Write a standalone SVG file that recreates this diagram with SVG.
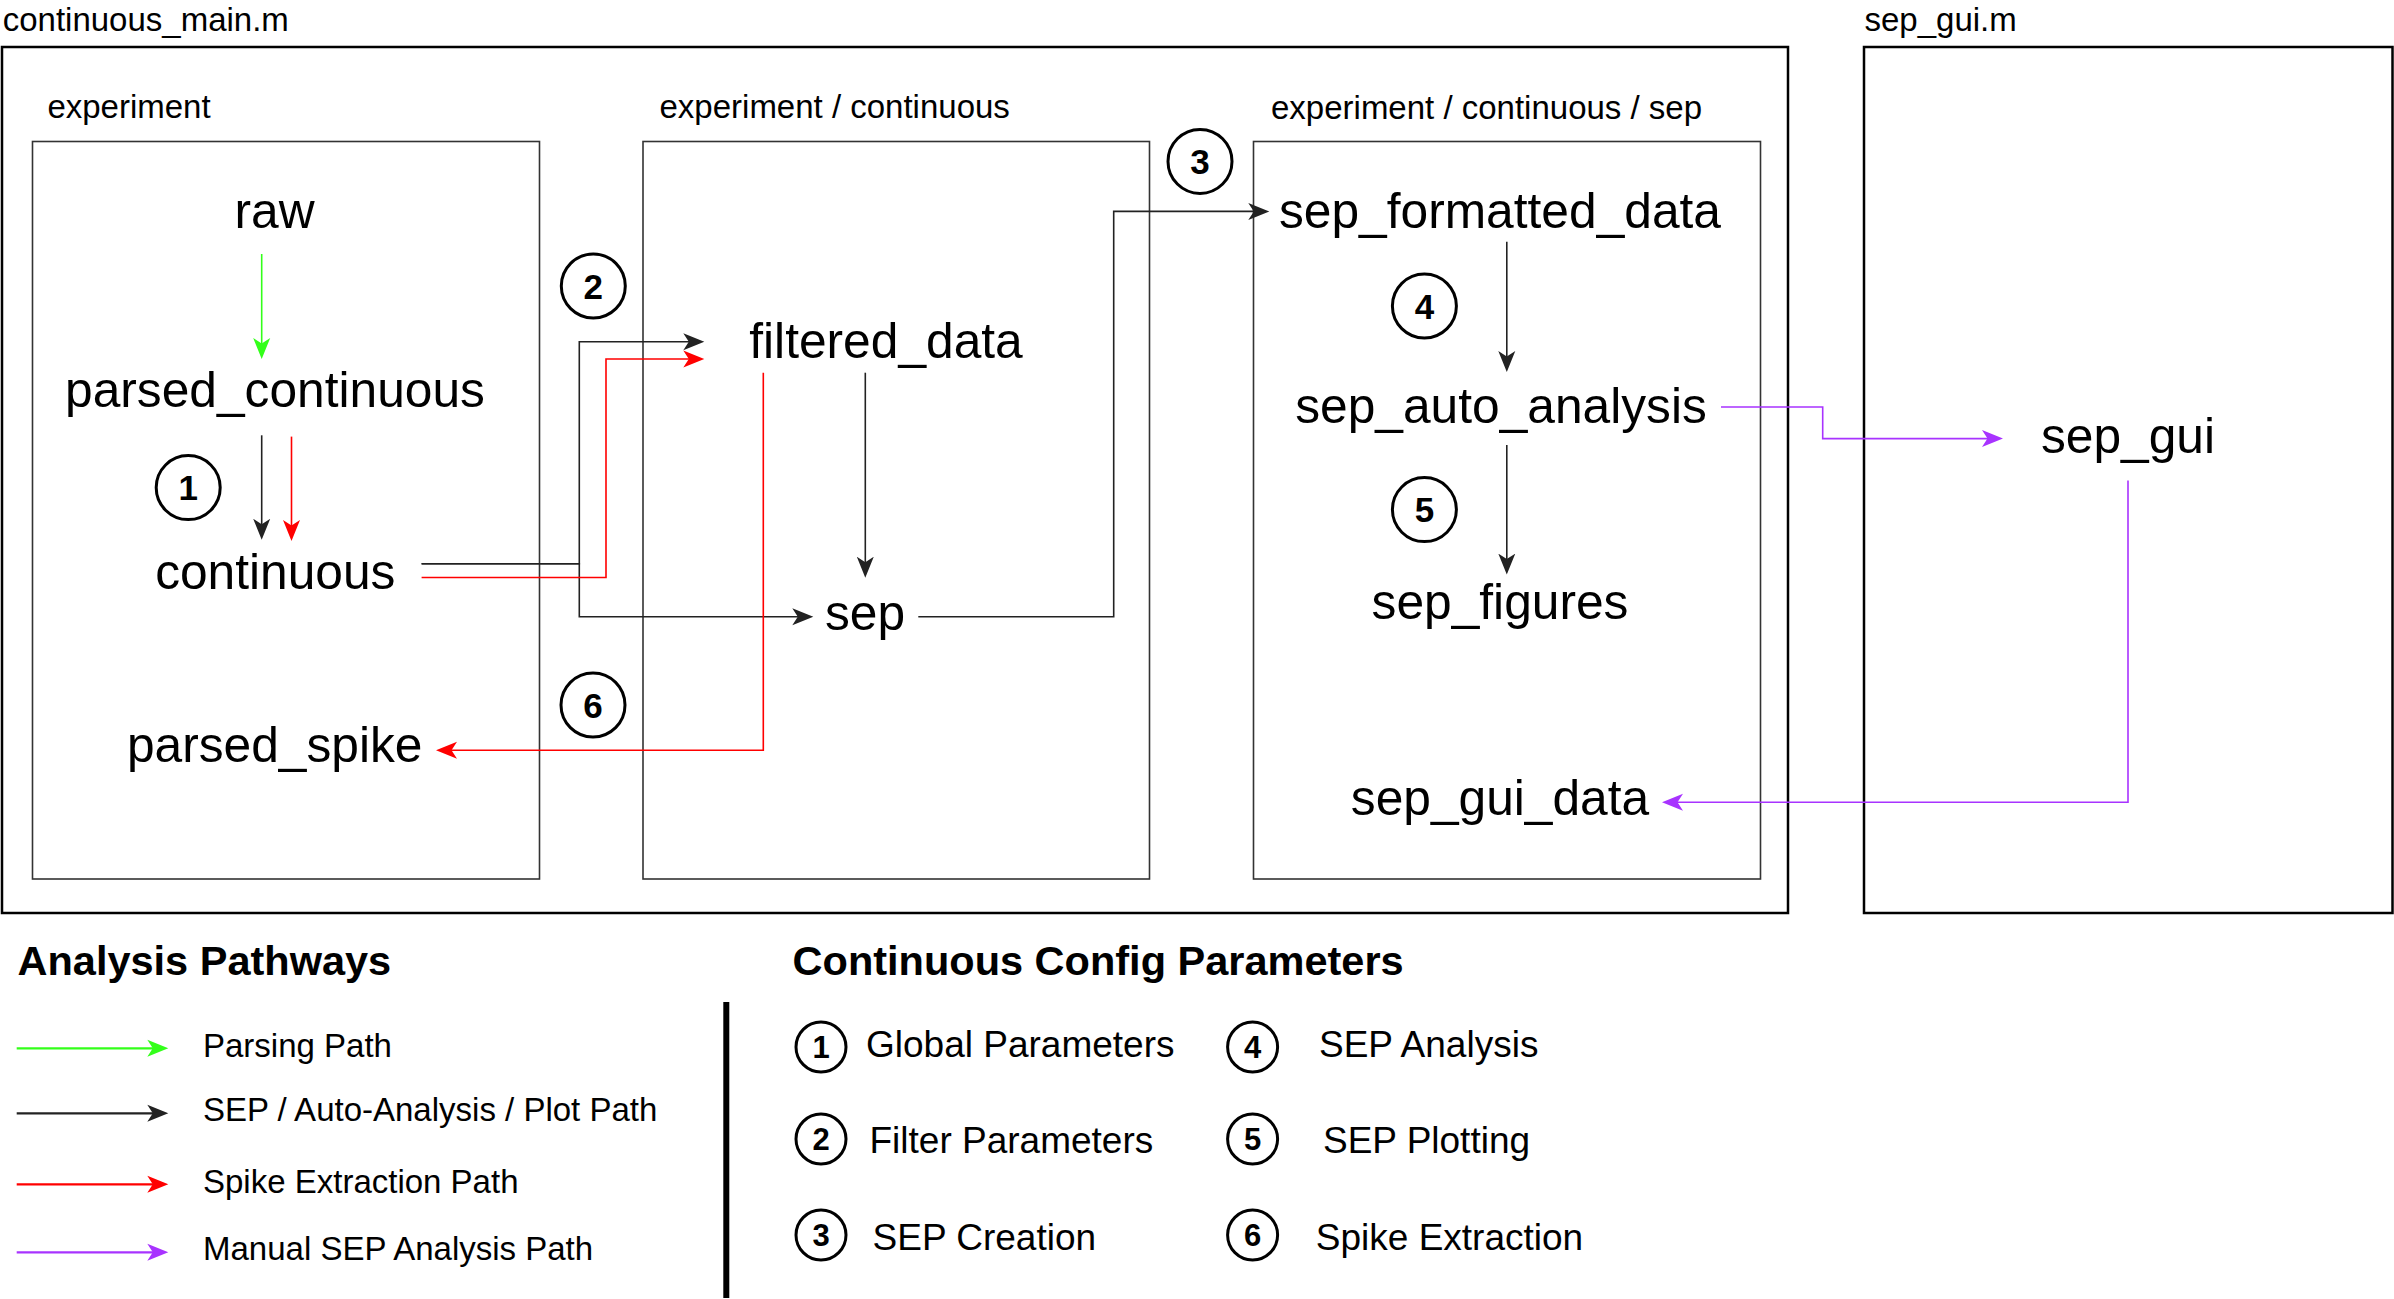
<svg xmlns="http://www.w3.org/2000/svg" width="2394" height="1299" viewBox="0 0 2394 1299">
<style>
text{font-family:"Liberation Sans",Arial,Helvetica,sans-serif;fill:#000}
.lbl{font-size:33px}
.node{font-size:49.7px;text-anchor:middle}
.num{font-size:35px;font-weight:bold;text-anchor:middle}
.lnum{font-size:31px;font-weight:bold;text-anchor:middle}
.leg{font-size:33px}
.cfg{font-size:37px}
.ttl{font-size:41.5px;font-weight:bold}
.outer{fill:#fff;stroke:#000;stroke-width:2.5}
.inner{fill:#fff;stroke:#333;stroke-width:1.6}
.circ{fill:#fff;stroke:#000;stroke-width:3}
.e{fill:none;stroke-width:1.6}
.k{stroke:#222}
.r{stroke:#ff0000}
.g{stroke:#33ff1a}
.p{stroke:#a833ff}
.le{fill:none;stroke-width:2.2}
</style>
<defs>
<marker id="mk" markerUnits="userSpaceOnUse" markerWidth="22" markerHeight="18" viewBox="0 0 22 18" refX="6" refY="9" orient="auto"><path d="M0,0.5 L21,9 L0,17.5 L5.5,9 Z" fill="#222"/></marker>
<marker id="mr" markerUnits="userSpaceOnUse" markerWidth="22" markerHeight="18" viewBox="0 0 22 18" refX="6" refY="9" orient="auto"><path d="M0,0.5 L21,9 L0,17.5 L5.5,9 Z" fill="#ff0000"/></marker>
<marker id="mg" markerUnits="userSpaceOnUse" markerWidth="22" markerHeight="18" viewBox="0 0 22 18" refX="6" refY="9" orient="auto"><path d="M0,0.5 L21,9 L0,17.5 L5.5,9 Z" fill="#33ff1a"/></marker>
<marker id="mp" markerUnits="userSpaceOnUse" markerWidth="22" markerHeight="18" viewBox="0 0 22 18" refX="6" refY="9" orient="auto"><path d="M0,0.5 L21,9 L0,17.5 L5.5,9 Z" fill="#a833ff"/></marker>
</defs>
<rect width="2394" height="1299" fill="#fff"/>

<g id="continuous_main_m">
<text class="lbl" x="2.7" y="30.5">continuous_main.m</text>
<rect class="outer" x="2" y="47" width="1786" height="866"/>
</g>
<g id="sep_gui_m">
<text class="lbl" x="1864.5" y="30.5">sep_gui.m</text>
<rect class="outer" x="1864" y="47" width="528.5" height="866"/>
</g>
<g id="box_experiment">
<text class="lbl" x="47.4" y="118">experiment</text>
<rect class="inner" x="32.5" y="141.5" width="507" height="737.5"/>
</g>
<g id="box_continuous">
<text class="lbl" x="659.5" y="118">experiment / continuous</text>
<rect class="inner" x="643" y="141.5" width="506.5" height="737.5"/>
</g>
<g id="box_sep">
<text class="lbl" x="1271" y="118.5">experiment / continuous / sep</text>
<rect class="inner" x="1253.5" y="141.5" width="507" height="737.5"/>
</g>

<g id="connectors">
<path class="e g" d="M261.7,254 V344" marker-end="url(#mg)"/>
<path class="e k" d="M261.7,435.3 V524.8" marker-end="url(#mk)"/>
<path class="e r" d="M291.5,436.6 V526" marker-end="url(#mr)"/>
<path class="e k" d="M421.6,563.8 H579.3 V341.7 H689.3" marker-end="url(#mk)"/>
<path class="e k" d="M421.6,563.8 H579.3 V616.7 H798.3" marker-end="url(#mk)"/>
<path class="e r" d="M421.6,577.5 H606 V359 H689.3" marker-end="url(#mr)"/>
<path class="e k" d="M865.3,372.7 V562.7" marker-end="url(#mk)"/>
<path class="e r" d="M763.3,372.7 V750.3 H451" marker-end="url(#mr)"/>
<path class="e k" d="M918.3,616.7 H1113.7 V211.4 H1254.3" marker-end="url(#mk)"/>
<path class="e k" d="M1506.8,241.8 V357" marker-end="url(#mk)"/>
<path class="e k" d="M1506.8,445 V559.6" marker-end="url(#mk)"/>
<path class="e p" d="M1721,407 H1822.7 V438.6 H1988" marker-end="url(#mp)"/>
<path class="e p" d="M2128,480.4 V802.3 H1677" marker-end="url(#mp)"/>
</g>

<g id="node_raw"><text class="node" x="274.5" y="228">raw</text></g>
<g id="node_parsed_continuous"><text class="node" x="275" y="406.7">parsed_continuous</text></g>
<g id="node_continuous"><text class="node" x="275.3" y="588.7">continuous</text></g>
<g id="node_parsed_spike"><text class="node" x="274.7" y="762.3">parsed_spike</text></g>
<g id="node_filtered_data"><text class="node" x="886" y="358.3">filtered_data</text></g>
<g id="node_sep"><text class="node" x="865" y="630">sep</text></g>
<g id="node_sep_formatted_data"><text class="node" x="1500" y="227.5">sep_formatted_data</text></g>
<g id="node_sep_auto_analysis"><text class="node" x="1501" y="423">sep_auto_analysis</text></g>
<g id="node_sep_figures"><text class="node" x="1500" y="618.6">sep_figures</text></g>
<g id="node_sep_gui_data"><text class="node" x="1500" y="815">sep_gui_data</text></g>
<g id="node_sep_gui"><text class="node" x="2128" y="452.9">sep_gui</text></g>

<g id="step_1"><circle class="circ" cx="188.2" cy="487.6" r="32"/><text class="num" x="188.2" y="500">1</text></g>
<g id="step_2"><circle class="circ" cx="593.3" cy="286" r="32"/><text class="num" x="593.3" y="298.5">2</text></g>
<g id="step_3"><circle class="circ" cx="1200" cy="161.4" r="32"/><text class="num" x="1200" y="173.9">3</text></g>
<g id="step_4"><circle class="circ" cx="1424.4" cy="306" r="32"/><text class="num" x="1424.4" y="318.5">4</text></g>
<g id="step_5"><circle class="circ" cx="1424.4" cy="509.6" r="32"/><text class="num" x="1424.4" y="522.1">5</text></g>
<g id="step_6"><circle class="circ" cx="593" cy="705" r="32"/><text class="num" x="593" y="717.5">6</text></g>

<g id="legend_pathways">
<text class="ttl" x="17.5" y="975">Analysis Pathways</text>
<path class="le g" d="M16.7,1048.3 H153.3" marker-end="url(#mg)"/>
<text class="leg" x="203" y="1056.7">Parsing Path</text>
<path class="le k" d="M16.7,1113.3 H153.3" marker-end="url(#mk)"/>
<text class="leg" x="203" y="1120.7">SEP / Auto-Analysis / Plot Path</text>
<path class="le r" d="M16.7,1184.3 H153.3" marker-end="url(#mr)"/>
<text class="leg" x="203" y="1192.7">Spike Extraction Path</text>
<path class="le p" d="M16.7,1252.3 H153.3" marker-end="url(#mp)"/>
<text class="leg" x="203" y="1260">Manual SEP Analysis Path</text>
</g>
<g id="legend_divider"><rect x="723.3" y="1002" width="6" height="296" fill="#000"/></g>
<g id="legend_config">
<text class="ttl" x="792.6" y="975">Continuous Config Parameters</text>
<circle class="circ" cx="821" cy="1047" r="25"/><text class="lnum" x="821" y="1058">1</text>
<text class="cfg" x="866" y="1057">Global Parameters</text>
<circle class="circ" cx="821" cy="1139" r="25"/><text class="lnum" x="821" y="1150">2</text>
<text class="cfg" x="869.5" y="1153">Filter Parameters</text>
<circle class="circ" cx="821" cy="1235" r="25"/><text class="lnum" x="821" y="1246">3</text>
<text class="cfg" x="872.6" y="1250">SEP Creation</text>
<circle class="circ" cx="1252.6" cy="1047" r="25"/><text class="lnum" x="1252.6" y="1058">4</text>
<text class="cfg" x="1319" y="1057">SEP Analysis</text>
<circle class="circ" cx="1252.6" cy="1139" r="25"/><text class="lnum" x="1252.6" y="1150">5</text>
<text class="cfg" x="1323" y="1153">SEP Plotting</text>
<circle class="circ" cx="1252.6" cy="1235" r="25"/><text class="lnum" x="1252.6" y="1246">6</text>
<text class="cfg" x="1315.8" y="1250">Spike Extraction</text>
</g>
</svg>
